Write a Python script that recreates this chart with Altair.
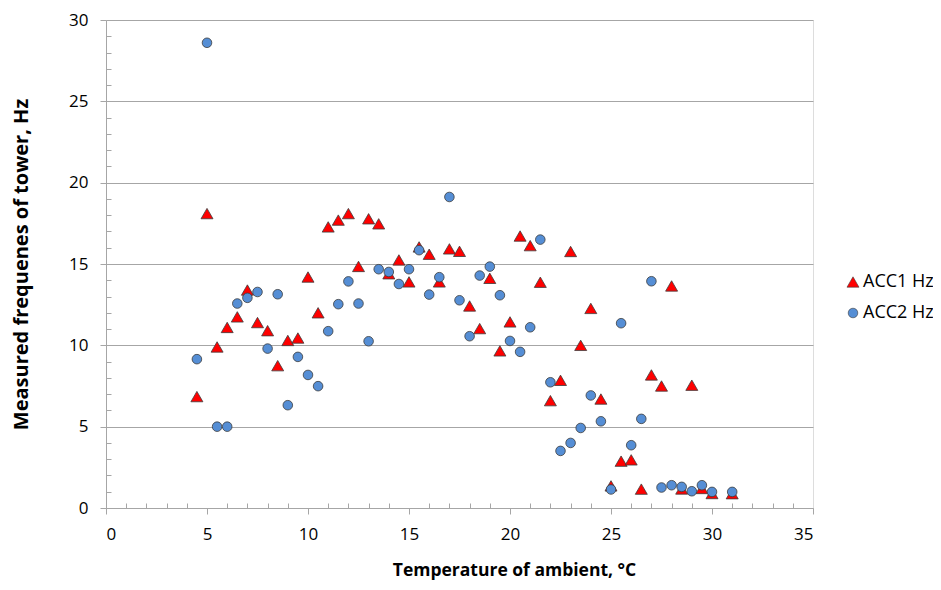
import altair as alt
import pandas as pd

temps = [4.5, 5, 5.5, 6, 6.5, 7, 7.5, 8, 8.5, 9, 9.5, 10, 10.5, 11, 11.5, 12, 12.5, 13,
         13.5, 14, 14.5, 15, 15.5, 16, 16.5, 17, 17.5, 18, 18.5, 19, 19.5, 20, 20.5, 21,
         21.5, 22, 22.5, 23, 23.5, 24, 24.5, 25, 25.5, 26, 26.5, 27, 27.5, 28, 28.5, 29,
         29.5, 30, 31]

acc1 = [6.85, 18.1, 9.9, 11.1, 11.75, 13.4, 11.4, 10.9, 8.75, 10.3, 10.45, 14.2, 12.0,
        17.28, 17.7, 18.1, 14.85, 17.78, 17.47, 14.4, 15.25, 13.9, 16.05, 15.6, 13.9,
        15.93, 15.78, 12.42, 11.03, 14.12, 9.66, 11.44, 16.72, 16.13, 13.88, 6.6, 7.85,
        15.77, 10.0, 12.27, 6.7, 1.36, 2.88, 2.96, 1.16, 8.18, 7.5, 13.65, 1.17, 7.55,
        1.2, 0.89, 0.88]

acc2 = [9.15, 28.6, 5.0, 5.0, 12.57, 12.92, 13.28, 9.8, 13.14, 6.32, 9.29, 8.18, 7.49,
        10.87, 12.53, 13.93, 12.57, 10.25, 14.68, 14.51, 13.77, 14.68, 15.85, 13.12,
        14.19, 19.12, 12.77, 10.56, 14.29, 14.84, 13.08, 10.27, 9.6, 11.11, 16.5, 7.73,
        3.51, 4.0, 4.92, 6.92, 5.33, 1.14, 11.36, 3.86, 5.48, 13.94, 1.26, 1.4, 1.3,
        1.03, 1.4, 0.99, 0.99]

series_names = ["ACC1 Hz", "ACC2 Hz"]
x_major = [0, 5, 10, 15, 20, 25, 30, 35]
x_minor = [1, 2, 3, 4, 6, 7, 8, 9, 11, 12, 13, 14, 16, 17, 18, 19, 21, 22, 23, 24,
           26, 27, 28, 29, 31, 32, 33, 34]
y_major = [0, 5, 10, 15, 20, 25, 30]
y_minor = [1, 2, 3, 4, 6, 7, 8, 9, 11, 12, 13, 14, 16, 17, 18, 19, 21, 22, 23, 24,
           26, 27, 28, 29]

rows = []
for t, v in zip(temps, acc1):
    rows.append({"temp": t, "freq": v, "series": series_names[0]})
for t, v in zip(temps, acc2):
    rows.append({"temp": t, "freq": v, "series": series_names[1]})
df = pd.DataFrame(rows)

FONT = "Open Sans"
GRAY = "#a6a6a6"

xscale = alt.Scale(domain=[0, 35], nice=False, zero=False)
yscale = alt.Scale(domain=[0, 30], nice=False, zero=False)

points = alt.Chart(df).mark_point(
    filled=True, opacity=1, stroke="#3c3c3c", strokeWidth=0.8
).encode(
    x=alt.X("temp:Q", scale=xscale, axis=alt.Axis(
        orient="bottom",
        values=x_major, title="Temperature of ambient, °C", grid=False,
        domainColor=GRAY, tickColor=GRAY, tickSize=6, labelPadding=12,
        labelFont=FONT, labelFontSize=17, labelColor="#000000",
        titleFont=FONT, titleFontSize=17.5, titleFontWeight="bold", titleColor="#000000",
        titleX=408, titleY=62, titleBaseline="middle", titleAlign="center")),
    y=alt.Y("freq:Q", scale=yscale, axis=alt.Axis(
        orient="left",
        values=y_major, title="Measured frequenes of tower, Hz", grid=True,
        gridColor=GRAY, domainColor=GRAY, tickColor=GRAY, tickSize=6, labelPadding=12,
        labelFont=FONT, labelFontSize=17, labelColor="#000000",
        titleFont=FONT, titleFontSize=20, titleFontWeight="bold", titleColor="#000000",
        titleAngle=-90, titleX=-85, titleY=244, titleBaseline="middle", titleAlign="center")),
    color=alt.Color("series:N", scale=alt.Scale(domain=series_names, range=["#ff0000", "#558ed5"]),
                    legend=alt.Legend(title=None, orient="none", legendX=738, legendY=253,
                                      labelFont=FONT, labelFontSize=18, labelColor="#000000",
                                      labelOffset=1, rowPadding=13, padding=0,
                                      symbolStrokeWidth=0.6)),
    shape=alt.Shape("series:N", scale=alt.Scale(domain=series_names, range=["triangle-up", "circle"])),
    size=alt.Size("series:N", scale=alt.Scale(domain=series_names, range=[144, 92])),
    order=alt.Order("series:N"),
)

minor = alt.Chart(df).mark_point(opacity=0).encode(
    x=alt.X("temp:Q", scale=xscale, axis=alt.Axis(
        orient="bottom", values=x_minor, labels=False, domain=False, grid=False,
        tickSize=5, offset=-5, tickColor=GRAY, title=None)),
    y=alt.Y("freq:Q", scale=yscale, axis=alt.Axis(
        orient="left", values=y_minor, labels=False, domain=False, grid=False,
        tickSize=5, offset=-5, tickColor=GRAY, title=None)),
)

chart = alt.layer(minor, points).resolve_axis(x="independent", y="independent").properties(
    width=707, height=488,
    autosize=alt.AutoSizeParams(type="none"),
    padding={"left": 98, "top": 12, "right": 120, "bottom": 74},
).configure_view(stroke=None).configure(background="#ffffff")

chart.save("out.html", embed_options={"renderer": "svg", "actions": False})
